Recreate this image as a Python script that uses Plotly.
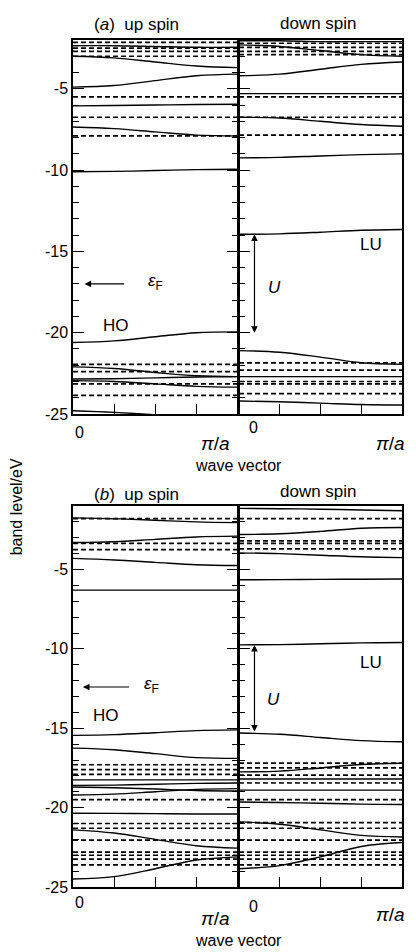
import plotly.graph_objects as go

# ---------------- data (energies in eV, wave vector in units of pi/a) ----------------
k = [0, 0.25, 0.5, 0.75, 1.0]
k_flat = [0, 1.0]

# panel (a) up spin
a_up_solid = [
    [-2.35, -2.35, -2.4, -2.45, -2.45],
    [-3.0, -3.1, -3.35, -3.6, -3.7],
    [-4.9, -4.8, -4.5, -4.2, -4.1],
    [-6.05, -6.03, -6.0, -5.97, -5.95],
    [-7.35, -7.45, -7.65, -7.85, -7.9],
    [-10.1, -10.08, -10.03, -9.97, -9.95],
    [-20.6, -20.5, -20.25, -20.0, -19.95],
    [-22.1, -22.2, -22.45, -22.65, -22.7],
    [-22.85, -22.83, -22.78, -22.72, -22.7],
    [-22.95, -23.0, -23.15, -23.3, -23.35],
    [-24.8, -24.9, -25.05, -25.25, -25.3],
]
a_up_dashed = [-2.15, -2.5, -2.7, -3.0, -5.5, -6.75, -7.9, -21.95, -22.4, -23.15, -23.85]

# panel (a) down spin
a_dn_solid = [
    [-2.05, -2.05, -2.1, -2.1, -2.1],
    [-2.3, -2.4, -2.65, -2.9, -3.0],
    [-4.2, -4.1, -3.8, -3.5, -3.35],
    [-5.3, -5.3, -5.3, -5.3, -5.3],
    [-6.75, -6.8, -7.0, -7.2, -7.3],
    [-9.25, -9.22, -9.13, -9.05, -9.0],
    [-13.95, -13.92, -13.82, -13.7, -13.65],
    [-21.1, -21.2, -21.5, -21.85, -21.95],
    [-22.7, -22.7, -22.7, -22.7, -22.7],
    [-24.2, -24.25, -24.33, -24.42, -24.45],
]
a_dn_dashed = [-2.2, -2.45, -2.7, -2.9, -5.5, -6.75, -7.85, -21.85, -22.3, -23.0, -23.15, -23.75]

# panel (b) up spin
b_up_solid = [
    [-1.75, -1.8, -1.9, -2.0, -2.05],
    [-3.3, -3.25, -3.1, -2.95, -2.9],
    [-4.3, -4.4, -4.55, -4.7, -4.75],
    [-6.3, -6.3, -6.3, -6.3, -6.3],
    [-15.45, -15.4, -15.28, -15.15, -15.1],
    [-16.25, -16.35, -16.6, -16.85, -16.9],
    [-18.25, -18.25, -18.25, -18.25, -18.25],
    [-18.6, -18.58, -18.53, -18.47, -18.45],
    [-18.7, -18.75, -18.83, -18.92, -18.95],
    [-19.2, -19.15, -19.0, -18.85, -18.8],
    [-20.35, -20.36, -20.38, -20.4, -20.4],
    [-21.4, -21.6, -22.0, -22.4, -22.55],
    [-24.5, -24.35, -23.85, -23.3, -23.1],
]
b_up_dashed = [-1.8, -3.35, -3.75, -17.3, -17.6, -17.9, -19.5, -21.0, -21.3, -22.05,
               -22.8, -23.0, -23.25, -23.6]

# panel (b) down spin
b_dn_solid = [
    [-1.15, -1.17, -1.2, -1.25, -1.3],
    [-2.8, -2.75, -2.6, -2.4, -2.35],
    [-3.95, -4.0, -4.1, -4.2, -4.25],
    [-5.65, -5.64, -5.62, -5.61, -5.6],
    [-9.75, -9.73, -9.68, -9.62, -9.6],
    [-15.3, -15.38, -15.58, -15.78, -15.85],
    [-17.75, -17.7, -17.5, -17.28, -17.2],
    [-18.2, -18.2, -18.2, -18.2, -18.2],
    [-18.9, -18.9, -18.9, -18.9, -18.9],
    [-19.65, -19.68, -19.72, -19.78, -19.8],
    [-20.9, -21.05, -21.4, -21.75, -21.85],
    [-23.85, -23.65, -23.1, -22.45, -22.2],
]
b_dn_dashed = [-1.8, -3.2, -3.35, -3.7, -17.2, -17.5, -17.95, -18.45, -19.5, -20.95,
               -21.3, -22.05, -22.8, -23.0, -23.25, -23.6]

y_ticks = [-25, -20, -15, -10, -5]
y_ticktext = ["-25", "-20", "-15", "-10", "-5"]
y_minor = list(range(-25, 0))
x_ticks = [0.25, 0.5, 0.75]

range_a = [-25, -2]
range_b = [-25, -1]

# ---------------- figure ----------------
W, H = 416, 952
L, R, T, B = 73, 12, 40, 65
LW = 1.5
FONT = "Liberation Sans, Arial, Helvetica, sans-serif"
PW = W - L - R


def px(xp, yp):
    return (xp - L) / PW, (H - B - yp) / (H - T - B)


fig = go.Figure()
panels = [
    ("x", "y", a_up_solid, a_up_dashed),
    ("x2", "y2", a_dn_solid, a_dn_dashed),
    ("x3", "y3", b_up_solid, b_up_dashed),
    ("x4", "y4", b_dn_solid, b_dn_dashed),
]
for xa, ya, sol, dsh in panels:
    for v in dsh:
        fig.add_trace(go.Scatter(x=k_flat, y=[v, v], mode="lines", xaxis=xa, yaxis=ya,
                                 line=dict(color="black", width=1.7, dash="5px,3px"),
                                 showlegend=False, hoverinfo="skip"))
    for band in sol:
        fig.add_trace(go.Scatter(x=k, y=band, mode="lines", xaxis=xa, yaxis=ya,
                                 line=dict(color="black", width=1.4, shape="spline"),
                                 showlegend=False, hoverinfo="skip"))

ya_bot = (H - B - 414) / (H - T - B)
yb_top2 = (H - B - 506) / (H - T - B)
split = 0.5
dom_up = [0, split]
dom_dn = [split + LW / PW, 1]


def xax(dom, anchor):
    return dict(domain=dom, anchor=anchor, range=[0, 1], showline=True, mirror=True,
                linecolor="black", linewidth=LW, ticks="inside", tickvals=x_ticks,
                ticklen=10, tickwidth=1.2, tickcolor="black", showticklabels=False,
                showgrid=False, zeroline=False)


def yax(dom, anchor, rng, left):
    return dict(domain=dom, anchor=anchor, range=rng, showline=True,
                mirror="ticks" if left else True,
                linecolor="black", linewidth=LW, ticks="inside", tickvals=y_ticks,
                ticktext=y_ticktext, ticklen=11, tickwidth=1.2, tickcolor="black",
                showticklabels=left, tickfont=dict(size=16, color="black", family=FONT),
                minor=dict(tickmode="array", tickvals=y_minor, ticks="inside", ticklen=6,
                           tickwidth=1, tickcolor="black", showgrid=False),
                showgrid=False, zeroline=False)


fig.update_layout(
    width=W, height=H, margin=dict(l=L, r=R, t=T, b=B),
    paper_bgcolor="white", plot_bgcolor="white",
    font=dict(family=FONT, color="black", size=16),
    xaxis=xax(dom_up, "y"), xaxis2=xax(dom_dn, "y2"),
    xaxis3=xax(dom_up, "y3"), xaxis4=xax(dom_dn, "y4"),
    yaxis=yax([ya_bot, 1], "x", range_a, True),
    yaxis2=yax([ya_bot, 1], "x2", range_a, False),
    yaxis3=yax([0, yb_top2], "x3", range_b, True),
    yaxis4=yax([0, yb_top2], "x4", range_b, False),
)

ann = []


def ptext(xp, yp, text, size=16, **kw):
    x, y = px(xp, yp)
    d = dict(x=x, y=y, xref="paper", yref="paper", text=text, showarrow=False,
             font=dict(size=size, color="black", family=FONT), xanchor="center", yanchor="middle")
    d.update(kw)
    ann.append(d)


# titles
ptext(137, 24, "(<i>a</i>)  up spin", 17)
ptext(320, 23, "down spin", 17)
ptext(137, 494, "(<i>b</i>)  up spin", 17)
ptext(320, 492, "down spin", 17)
# y title
ptext(16, 507, "band level/eV", 16, textangle=-90)
# x labels
for y0, ypi, y0d, ypid, ywv in [(432, 443, 427, 443, 465), (902, 918, 906, 914, 940)]:
    ptext(80, y0, "0", 16)
    ptext(216, ypi, "<i>π</i>/<i>a</i>", 19)
    ptext(255, y0d, "0", 16)
    ptext(392, ypid, "<i>π</i>/<i>a</i>", 19)
    ptext(240, ywv, "wave vector", 16)


def dtext(xr, yr, x, y, text, size=17):
    ann.append(dict(x=x, y=y, xref=xr, yref=yr, text=text, showarrow=False,
                    font=dict(size=size, color="black", family=FONT),
                    xanchor="center", yanchor="middle"))


def arrow(xr, yr, x, y, ax, ay, both=False):
    ann.append(dict(x=x, y=y, ax=ax, ay=ay, xref=xr, yref=yr, axref=xr, ayref=yr,
                    text="", showarrow=True, arrowhead=2, arrowsize=1.1, arrowwidth=1.2,
                    arrowcolor="black", arrowside="end+start" if both else "end"))


# panel (a)
arrow("x", "y", 0.07, -17.0, 0.32, -17.0)
dtext("x", "y", 0.5, -16.9, "<i>ε</i><sub>F</sub>")
dtext("x", "y", 0.26, -19.55, "HO")
dtext("x2", "y2", 0.81, -14.6, "LU")
dtext("x2", "y2", 0.22, -17.2, "<i>U</i>")
arrow("x2", "y2", 0.095, -13.95, 0.095, -20.1, both=True)
# panel (b)
arrow("x3", "y3", 0.06, -12.4, 0.35, -12.4)
dtext("x3", "y3", 0.48, -12.3, "<i>ε</i><sub>F</sub>")
dtext("x3", "y3", 0.2, -14.2, "HO")
dtext("x4", "y4", 0.81, -10.85, "LU")
dtext("x4", "y4", 0.21, -13.2, "<i>U</i>")
arrow("x4", "y4", 0.095, -9.75, 0.095, -15.3, both=True)

fig.update_layout(annotations=ann)
fig.write_html("out.html", config={"displayModeBar": False},
               post_script="document.body.style.margin='0';document.body.style.overflow='hidden';")
